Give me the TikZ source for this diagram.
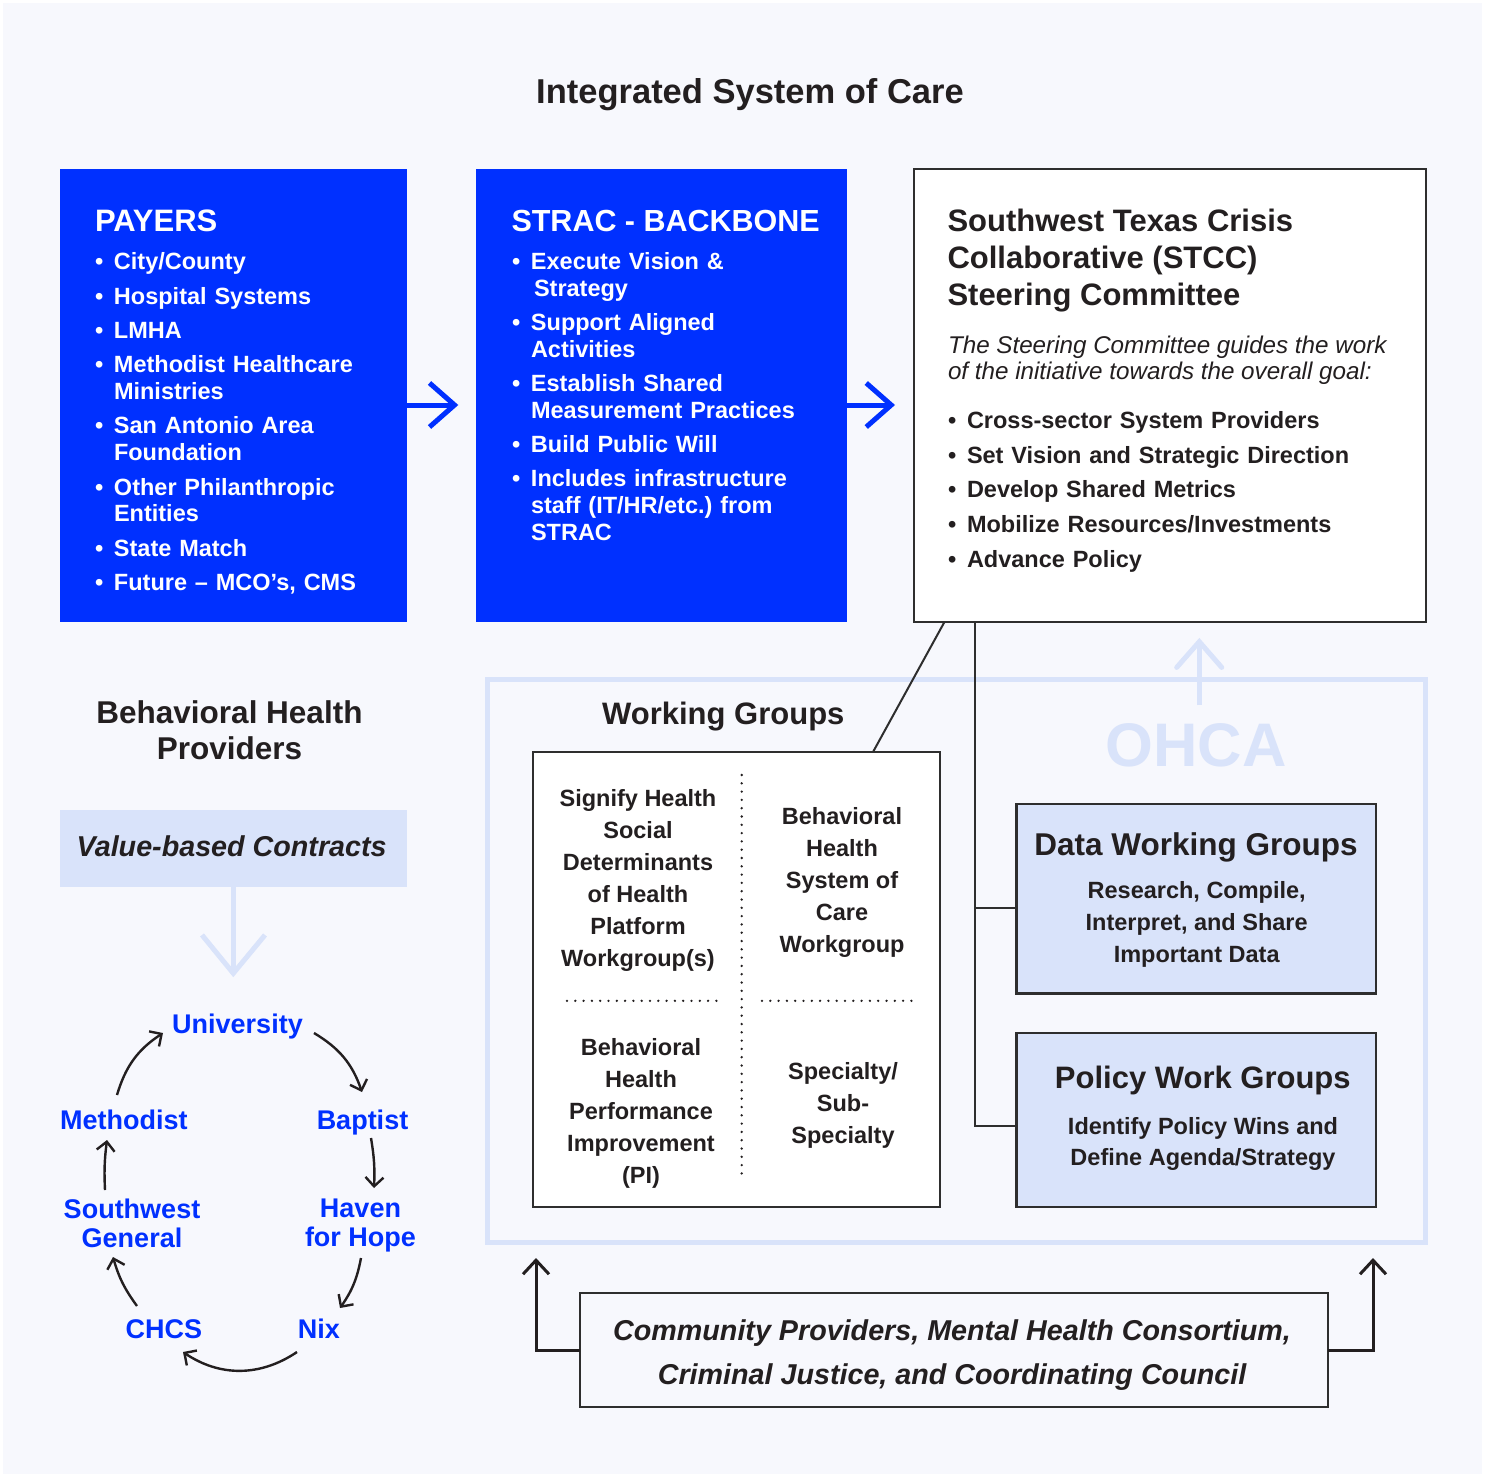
\documentclass[tikz,border=0pt]{standalone}
\usepackage{fontspec}
\setmainfont{Liberation Sans}
\usetikzlibrary{arrows.meta}
\definecolor{bgc}{HTML}{F7F8FD}
\definecolor{bblue}{HTML}{0030FF}
\definecolor{lblue}{HTML}{D9E3FA}
\definecolor{dark}{HTML}{231F20}
\definecolor{edge}{HTML}{2E2E2E}
\newcommand\fs[2]{\fontsize{#1}{#2}\selectfont}
\newcommand\bitem[3]{\noindent\strut\makebox[#1][l]{\textbullet}#3\par\vspace{#2}}
\newcommand\cont{\\\hspace*{19pt}}
\begin{document}
\begin{tikzpicture}[x=1pt,y=-1pt,
  every node/.style={inner sep=0pt,outer sep=0pt,text=dark},
  bluebox/.style={fill=bblue,anchor=north west},
  whitebox/.style={fill=white,draw=edge,line width=2.2pt,anchor=north west},
  lightbox/.style={fill=lblue,draw=edge,line width=2.6pt,anchor=north west},
  boxtitle/.style={font=\fs{31}{37}\bfseries},
  bulletlist/.style={anchor=north west,align=left,font=\fs{23.5}{26.8}\bfseries},
  celltext/.style={anchor=north,align=center,font=\fs{23.5}{32}\bfseries},
  cyc/.style={text=bblue,font=\fs{27}{26.3}\bfseries},
  conn/.style={draw=edge,line width=2pt},
  bigarrow/.style={draw=bblue,line width=5pt,-{Straight Barb[length=25pt,width=44pt]}},
  lightarrow/.style={draw=lblue,line width=5pt},
  cycarrow/.style={draw=dark,line width=2.4pt,-{Straight Barb[length=9pt,width=18pt]}},
  commarrow/.style={draw=dark,line width=3pt,-{Straight Barb[length=14pt,width=26pt]}},
  dotline/.style={draw=dark,line width=2.6pt,line cap=round,dash pattern=on 0pt off 8.3pt}
]
\path[use as bounding box] (0,0) rectangle (1485,1477);
\fill[white] (0,0) rectangle (1485,1477);
\fill[bgc] (3,3) rectangle (1482,1474);

% title
\node[anchor=base,font=\fs{34.5}{40}\bfseries] (title) at (750,103.5) {Integrated System of Care};

% PAYERS
\node[bluebox,minimum width=346.7pt,minimum height=452.7pt] (payers) at (60,169) {};
\node[anchor=base west,text=white,boxtitle] (payt) at (95,231.7) {PAYERS};
\node[bulletlist,text=white,text width=300pt] (payl) at (95,251.2) {%
\bitem{19pt}{7.5pt}{City/County}
\bitem{19pt}{7.5pt}{Hospital Systems}
\bitem{19pt}{7.5pt}{LMHA}
\bitem{19pt}{7.5pt}{Methodist Healthcare\cont Ministries}
\bitem{19pt}{7.5pt}{San Antonio Area\cont Foundation}
\bitem{19pt}{7.5pt}{Other Philanthropic\cont Entities}
\bitem{19pt}{7.5pt}{State Match}
\bitem{19pt}{7.5pt}{Future – MCO’s, CMS}};

% STRAC
\node[bluebox,minimum width=370.7pt,minimum height=452.7pt] (strac) at (476,169) {};
\node[anchor=base west,text=white,font=\fs{30.5}{37}\bfseries] (stract) at (511.5,231.7) {STRAC - BACKBONE};
\node[bulletlist,text=white,text width=325pt] (stracl) at (512,250.5) {%
\bitem{19pt}{7.5pt}{Execute Vision \&\\\hspace*{22pt}Strategy}
\bitem{19pt}{7.5pt}{Support Aligned\cont Activities}
\bitem{19pt}{7.5pt}{Establish Shared\cont Measurement Practices}
\bitem{19pt}{7.5pt}{Build Public Will}
\bitem{19pt}{7.5pt}{Includes infrastructure\cont staff (IT/HR/etc.)\ from\cont STRAC}};

% arrows between top boxes
\coordinate (a1s) at (406.7,405);
\coordinate (a1e) at (458.3,405);
\coordinate (a2s) at (846.7,405);
\coordinate (a2e) at (895,405);
\draw[bigarrow] (a1s) -- (a1e);
\draw[bigarrow] (a2s) -- (a2e);

% OHCA frame
\node[draw=lblue,line width=5pt,anchor=north west,minimum width=938.2pt,minimum height=563pt] (ohcabox) at (487.5,679) {};
\node[anchor=base,text=lblue,font=\fs{61.5}{70}\bfseries] (ohca) at (1196.2,766.3) {OHCA};
\coordinate (oa1) at (1199.3,705);
\coordinate (oa2) at (1199.3,641.7);
\coordinate (oaw1) at (1176.7,667.4);
\coordinate (oaw2) at (1221.7,667.4);
\draw[lightarrow] (oa1) -- (oa2);
\draw[lightarrow,line cap=round,line join=miter] (oaw1) -- (oa2) -- (oaw2);

% STCC
\node[whitebox,minimum width=511.7pt,minimum height=452.7pt] (stcc) at (914.3,169) {};
\node[anchor=north west,align=left,font=\fs{31}{37}\bfseries] (stcct) at (947.5,205.8) {\strut Southwest Texas Crisis\\Collaborative (STCC)\\Steering Committee};
\node[anchor=north west,align=left,font=\fs{24.2}{26.7}\itshape] (stcci) at (948,334.6) {\strut The Steering Committee guides the work\\of the initiative towards the overall goal:};
\node[bulletlist,text width=460pt] (stccl) at (948,409.5) {%
\bitem{19pt}{7.95pt}{Cross-sector System Providers}
\bitem{19pt}{7.95pt}{Set Vision and Strategic Direction}
\bitem{19pt}{7.95pt}{Develop Shared Metrics}
\bitem{19pt}{7.95pt}{Mobilize Resources/Investments}
\bitem{19pt}{7.95pt}{Advance Policy}};

% Working groups
\node[anchor=base,font=\fs{31}{37}\bfseries] (wgt) at (723.3,724) {Working Groups};
\node[whitebox,minimum width=407pt,minimum height=455pt] (wg) at (533,752) {};
\node[celltext] (c1) at (638,784) {\strut Signify Health\\Social\\Determinants\\of Health\\Platform\\Workgroup(s)};
\node[celltext] (c2) at (842,802.3) {\strut Behavioral\\Health\\System of\\Care\\Workgroup};
\node[celltext] (c3) at (641,1033.1) {\strut Behavioral\\Health\\Performance\\Improvement\\(PI)};
\node[celltext] (c4) at (843,1056.6) {\strut Specialty/\\Sub-\\Specialty};
\coordinate (dv1) at (741.7,775);
\coordinate (dv2) at (741.7,1181);
\coordinate (dh1) at (567,1000.8);
\coordinate (dh2) at (718,1000.8);
\coordinate (dh3) at (762,1000.8);
\coordinate (dh4) at (913,1000.8);
\draw[dotline] (dv1) -- (dv2);
\draw[dotline] (dh1) -- (dh2);
\draw[dotline] (dh3) -- (dh4);

% Data & Policy
\node[lightbox,minimum width=359.3pt,minimum height=189.8pt] (data) at (1016.7,803.9) {};
\node[anchor=base,font=\fs{31.5}{37}\bfseries] (datat) at (1196,855.3) {Data Working Groups};
\node[anchor=north,align=center,font=\fs{23.5}{31.6}\bfseries] (datas) at (1196.7,876.7) {\strut Research, Compile,\\Interpret, and Share\\Important Data};
\node[lightbox,minimum width=359.3pt,minimum height=174pt] (policy) at (1016.7,1033) {};
\node[anchor=base,font=\fs{31}{37}\bfseries] (policyt) at (1202.8,1088.6) {Policy Work Groups};
\node[anchor=north,align=center,font=\fs{23.5}{31.7}\bfseries] (policys) at (1203,1111.8) {\strut Identify Policy Wins and\\Define Agenda/Strategy};

% connectors from STCC
\coordinate (d1) at (944.6,621.7);
\coordinate (d2) at (873,752);
\draw[conn] (d1) -- (d2);
\coordinate (v0) at (975,621.7);
\coordinate (vd) at (975,907.9);
\coordinate (dj) at (1016.7,907.9);
\coordinate (pj) at (1016.7,1126);
\draw[conn] (v0) |- (pj);
\draw[conn] (vd) -- (dj);

% Behavioral health providers
\node[anchor=north,align=center,font=\fs{31.5}{36.7}\bfseries] (bhp) at (229.5,697.6) {\strut Behavioral Health\\Providers};
\node[fill=lblue,anchor=north west,minimum width=346.7pt,minimum height=76.7pt] (vbc) at (60,810) {};
\node[anchor=base,font=\fs{28.7}{34}\bfseries\itshape] (vbct) at (231.7,856.7) {Value-based Contracts};
\coordinate (va1) at (233.3,886.7);
\coordinate (va2) at (233.3,973.3);
\coordinate (vaw1) at (202,935);
\coordinate (vaw2) at (265,935);
\draw[lightarrow] (va1) -- (va2);
\draw[lightarrow,line join=miter] (vaw1) -- (va2) -- (vaw2);

% cycle
\node[cyc,anchor=base] (univ) at (237.5,1033.3) {University};
\node[cyc,anchor=base] (meth) at (123.8,1129.3) {Methodist};
\node[cyc,anchor=base] (bapt) at (362.5,1129.3) {Baptist};
\node[cyc,anchor=north,align=center] (swg) at (132,1199.3) {\strut Southwest\\General};
\node[cyc,anchor=north,align=center] (haven) at (360.5,1199.3) {\strut Haven\\for Hope};
\node[cyc,anchor=base] (chcs) at (163.8,1338.3) {CHCS};
\node[cyc,anchor=base] (nix) at (318.8,1338.3) {Nix};
\coordinate (m1) at (117,1095);
\coordinate (u1) at (163,1033);
\coordinate (u2) at (314,1033);
\coordinate (b1) at (362,1092);
\coordinate (b2) at (371,1138);
\coordinate (h1) at (374,1188);
\coordinate (h2) at (361,1258);
\coordinate (n1) at (340,1308);
\coordinate (n2) at (297,1352);
\coordinate (k1) at (183,1352);
\coordinate (k2) at (137,1306);
\coordinate (s1) at (113,1257);
\coordinate (s2) at (105,1190);
\coordinate (m2) at (107,1140);
\draw[cycarrow] (m1) to[bend left=20] (u1);
\draw[cycarrow] (u2) to[bend left=20] (b1);
\draw[cycarrow] (b2) to[bend left=6] (h1);
\draw[cycarrow] (h2) to[bend left=12] (n1);
\draw[cycarrow] (n2) to[bend left=34] (k1);
\draw[cycarrow] (k2) to[bend left=10] (s1);
\draw[cycarrow] (s2) to[bend left=5] (m2);

% community
\node[draw=edge,line width=2.2pt,fill=bgc,anchor=north west,minimum width=748pt,minimum height=114pt] (comm) at (580,1293) {};
\node[anchor=north,align=center,font=\fs{28.7}{44}\bfseries\itshape] (commt) at (952,1309.2) {\strut Community Providers, Mental Health Consortium,\\Criminal Justice, and Coordinating Council};
\coordinate (cl) at (536,1258);
\coordinate (cr) at (1373,1258);
\draw[commarrow] (comm.west) -| (cl);
\draw[commarrow] (comm.east) -| (cr);
\end{tikzpicture}
\end{document}
